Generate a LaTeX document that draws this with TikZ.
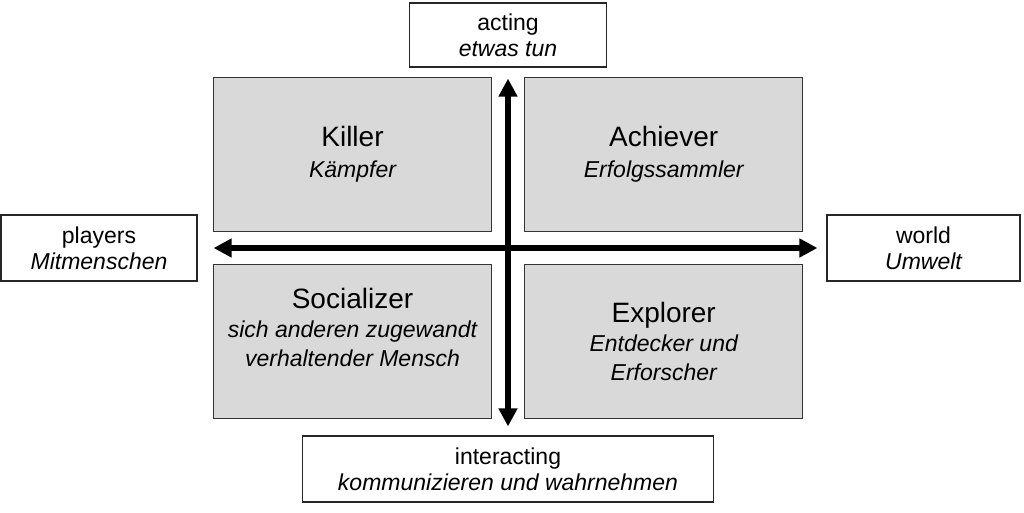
\documentclass[tikz,border=0pt]{standalone}
\usepackage{fontspec}
\setmainfont{Liberation Sans}
\usetikzlibrary{arrows.meta,positioning}

\begin{document}
\begin{tikzpicture}[
  x=1pt, y=-1pt,
  node distance=32pt and 32pt,
  type/.style={draw=black!80, line width=1.2pt, fill=black!15, align=center,
               minimum width=278pt, minimum height=154pt, inner sep=0pt,
               font=\fontsize{23}{29}\selectfont},
  axislabel/.style={draw=black!85, line width=1.2pt, fill=white, align=center,
               minimum height=64pt, inner sep=0pt,
               font=\fontsize{23}{26}\selectfont},
  axis/.style={{Triangle[length=18pt,width=18pt]}-{Triangle[length=18pt,width=18pt]},
               line width=5.5pt}]
  \useasboundingbox (0,0) rectangle (1024,512);
  % player types
  \node[type] (killer) at (352.5,154.5)
    {{\fontsize{28}{30}\selectfont Killer}\\[2pt]{\itshape Kämpfer}};
  \node[type, right=of killer] (achiever)
    {{\fontsize{28}{30}\selectfont Achiever}\\[2pt]{\itshape Erfolgssammler}};
  \node[type, below=of killer] (socializer)
    {{\fontsize{28}{30}\selectfont Socializer}\\{\itshape sich anderen zugewandt}\\{\itshape verhaltender Mensch}\\{}};
  \node[type, right=of socializer] (explorer)
    {{\fontsize{28}{30}\selectfont Explorer}\\{\itshape Entdecker und}\\{\itshape Erforscher}};
  % axes
  \node[axislabel, minimum width=197pt] (acting) at (508,35)
    {acting\\{\itshape etwas tun}};
  \node[axislabel, minimum width=411pt, minimum height=66pt] (interacting) at (508,469)
    {interacting\\{\itshape kommunizieren und wahrnehmen}};
  \node[axislabel, minimum width=196pt, minimum height=66pt] (players) at (99,248)
    {players\\{\itshape Mitmenschen}};
  \node[axislabel, minimum width=193pt, minimum height=66pt] (world) at (923.5,248)
    {world\\{\itshape Umwelt}};
  \draw[axis, shorten <=16pt, shorten >=9pt] (players) -- (world);
  \draw[axis, shorten <=11pt, shorten >=9pt] (acting) -- (interacting);
\end{tikzpicture}
\end{document}
